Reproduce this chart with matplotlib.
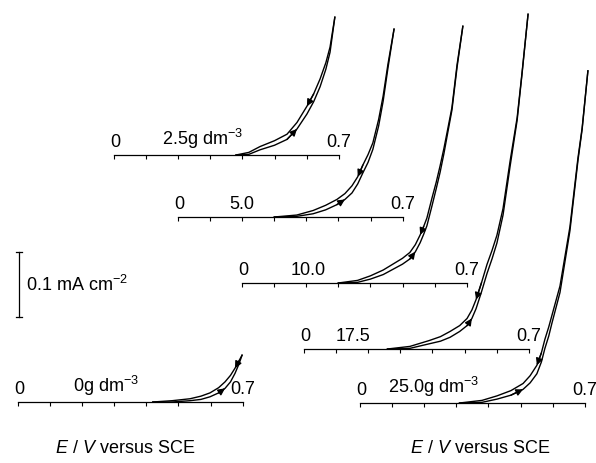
import numpy as np
import matplotlib
matplotlib.use("Agg")
import matplotlib.pyplot as plt

plt.rcParams["font.family"] = ["Liberation Sans", "DejaVu Sans"]
plt.rcParams["mathtext.fontset"] = "custom"
plt.rcParams["mathtext.rm"] = "Liberation Sans"
plt.rcParams["mathtext.it"] = "Liberation Sans:italic"

# --- data: potential (V vs SCE), forward / reverse current (mA cm-2) ---
conc_labels = ["0g dm$^{-3}$", "2.5g dm$^{-3}$", "5.0", "10.0", "17.5", "25.0g dm$^{-3}$"]

v_0 = [0.42, 0.48, 0.536, 0.57, 0.598, 0.625, 0.645, 0.662, 0.676, 0.688, 0.698]
fwd_0 = [0, 0.000, 0.002, 0.004, 0.008, 0.014, 0.021, 0.031, 0.044, 0.058, 0.072]
rev_0 = [0, 0.002, 0.005, 0.009, 0.014, 0.022, 0.031, 0.041, 0.052, 0.063, 0.072]

v_25 = [0.38, 0.42, 0.455, 0.50, 0.539, 0.57, 0.601, 0.622, 0.642, 0.66, 0.673, 0.688]
fwd_25 = [0, 0.001, 0.008, 0.015, 0.024, 0.040, 0.063, 0.082, 0.105, 0.132, 0.158, 0.212]
rev_25 = [0, 0.004, 0.013, 0.022, 0.032, 0.050, 0.075, 0.094, 0.117, 0.142, 0.166, 0.212]

v_50 = [0.30, 0.37, 0.421, 0.46, 0.495, 0.52, 0.542, 0.56, 0.576, 0.592, 0.607, 0.625, 0.639, 0.654, 0.673]
fwd_50 = [0, 0.001, 0.005, 0.011, 0.019, 0.027, 0.037, 0.051, 0.068, 0.084, 0.104, 0.140, 0.178, 0.229, 0.289]
rev_50 = [0, 0.003, 0.010, 0.018, 0.027, 0.036, 0.048, 0.062, 0.080, 0.096, 0.114, 0.150, 0.186, 0.235, 0.289]

v_100 = [0.30, 0.36, 0.40, 0.44, 0.47, 0.50, 0.523, 0.54, 0.555, 0.566, 0.576, 0.592,
         0.605, 0.617, 0.629, 0.639, 0.654, 0.670, 0.688]
fwd_100 = [0, 0.001, 0.006, 0.013, 0.021, 0.029, 0.037, 0.048, 0.062, 0.075, 0.088, 0.119,
           0.145, 0.170, 0.199, 0.226, 0.266, 0.332, 0.395]
rev_100 = [0, 0.004, 0.011, 0.020, 0.029, 0.038, 0.047, 0.059, 0.074, 0.087, 0.100, 0.131,
           0.155, 0.180, 0.207, 0.232, 0.270, 0.336, 0.395]

v_175 = [0.26, 0.33, 0.39, 0.425, 0.455, 0.485, 0.508, 0.523, 0.536, 0.553, 0.570, 0.586,
         0.601, 0.620, 0.642, 0.664, 0.679, 0.698]
fwd_175 = [0, 0.001, 0.008, 0.012, 0.018, 0.027, 0.036, 0.047, 0.062, 0.088, 0.116, 0.139,
           0.163, 0.206, 0.281, 0.352, 0.422, 0.515]
rev_175 = [0, 0.004, 0.013, 0.019, 0.027, 0.036, 0.047, 0.060, 0.076, 0.102, 0.130, 0.152,
           0.175, 0.216, 0.289, 0.356, 0.424, 0.515]

v_250 = [0.31, 0.38, 0.427, 0.47, 0.508, 0.53, 0.551, 0.565, 0.576, 0.588, 0.598, 0.623,
         0.654, 0.679, 0.692, 0.710]
fwd_250 = [0, 0.001, 0.006, 0.012, 0.021, 0.031, 0.045, 0.063, 0.084, 0.103, 0.123, 0.170,
           0.265, 0.373, 0.421, 0.511]
rev_250 = [0, 0.004, 0.011, 0.019, 0.030, 0.042, 0.058, 0.077, 0.098, 0.117, 0.135, 0.180,
           0.271, 0.377, 0.423, 0.511]

W, H = 596, 464
PX_PER_V = 321.0
PX_PER_MA = 650.0
FS = 13

fig = plt.figure(figsize=(W / 100, H / 100), dpi=100)


def trace_axes(x0, yb):
    # one transparent axes per voltammogram, same V and mA scale for all
    ylo, yhi = -0.05, 0.6
    left = x0 / W
    width = 0.7 * PX_PER_V / W
    bottom = 1 - (yb - ylo * PX_PER_MA) / H
    height = (yhi - ylo) * PX_PER_MA / H
    ax = fig.add_axes([left, bottom, width, height])
    ax.set_xlim(0, 0.7)
    ax.set_ylim(ylo, yhi)
    ax.patch.set_visible(False)
    for s in ["left", "right", "top"]:
        ax.spines[s].set_visible(False)
    ax.spines["bottom"].set_position(("data", 0))
    ax.spines["bottom"].set_linewidth(0.9)
    ax.yaxis.set_visible(False)
    ax.set_xticks(np.arange(8) * 0.1)
    ax.tick_params(axis="x", direction="out", length=3, width=0.8, labelbottom=False)
    return ax


# series, axis origin (px), label x (V), arrow indices (forward, reverse)
panels = [
    (v_0, fwd_0, rev_0, 18, 403, 0.17, 6, 8),
    (v_25, fwd_25, rev_25, 114, 156, 0.15, 5, 6),
    (v_50, fwd_50, rev_50, 178, 218, 0.16, 5, 7),
    (v_100, fwd_100, rev_100, 242, 284, 0.15, 7, 8),
    (v_175, fwd_175, rev_175, 304, 350, 0.10, 7, 8),
    (v_250, fwd_250, rev_250, 360, 404, 0.087, 4, 6),
]

axes = []
for (v, fwd, rev, x0, yb, lab_x, kf, kr), label in zip(panels, conc_labels):
    ax = trace_axes(x0, yb)
    axes.append(ax)
    ax.plot(v, fwd, color="k", lw=1.0, clip_on=False)
    ax.plot(v, rev, color="k", lw=1.0, clip_on=False)
    arrow = dict(arrowstyle="-|>", color="k", lw=1.0, mutation_scale=10, shrinkA=0, shrinkB=0)
    ax.annotate("", xy=(v[kf], fwd[kf]), xytext=(v[kf - 1], fwd[kf - 1]), arrowprops=arrow)
    ax.annotate("", xy=(v[kr], rev[kr]), xytext=(v[kr + 1], rev[kr + 1]), arrowprops=arrow)
    ax.text(0.005, 0.007, "0", ha="center", va="bottom", fontsize=FS)
    ax.text(0.70, 0.007, "0.7", ha="center", va="bottom", fontsize=FS)
    ax.text(lab_x, 0.007, label, ha="left", va="bottom", fontsize=FS)

# 0.1 mA cm-2 scale bar, drawn in the bottom-left trace's data units
ax0 = axes[0]
bar_lo, bar_hi = 0.131, 0.231
ax0.plot([0.003, 0.003], [bar_lo, bar_hi], color="k", lw=0.9, clip_on=False)
for yy in (bar_lo, bar_hi):
    ax0.plot([-0.006, 0.012], [yy, yy], color="k", lw=0.9, clip_on=False)
ax0.text(0.025, (bar_lo + bar_hi) / 2, "0.1 mA cm$^{-2}$", ha="left", va="center", fontsize=FS)

for xc in (125, 480):
    fig.text(xc / W, 1 - 449 / H, "$E$ / $V$ versus SCE", ha="center", va="center", fontsize=FS)

fig.savefig("out.png", dpi=100)
